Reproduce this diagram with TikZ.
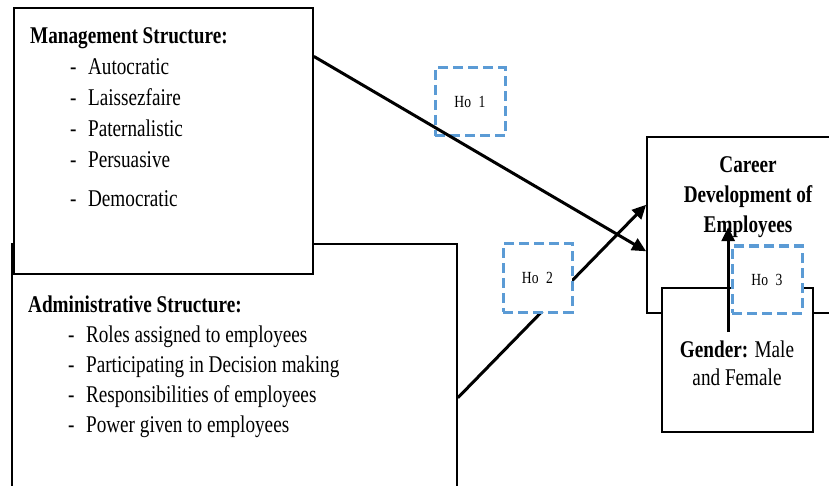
\documentclass[tikz,border=0pt]{standalone}
\usepackage{fontspec}
\setmainfont{Liberation Serif}[FakeStretch=0.80]
\usetikzlibrary{arrows.meta,calc}
\definecolor{hoblue}{HTML}{5B9BD5}
\tikzset{
  frame/.style={draw=black, line width=1.7pt, fill=white, rectangle, inner sep=0pt},
  hobox/.style={draw=hoblue, line width=3pt, dash pattern=on 10pt off 5pt,
    rectangle, inner sep=0pt, font=\fontsize{17}{20}\selectfont},
  link/.style={line width=3pt, -{Triangle[length=14pt,width=13pt]}},
  label/.style={inner sep=0pt, font=\fontsize{24}{31}\selectfont}
}
\begin{document}
\begin{tikzpicture}[x=1pt,y=-1pt]
\useasboundingbox (0,0) rectangle (829,486);
\clip (0,0) rectangle (829,486);

% independent variable boxes
\node[frame, minimum width=445pt, minimum height=256pt] (admin) at (234.5,372) {};
\node[frame, minimum width=299pt, minimum height=266pt] (mgmt) at (163.5,141) {};

\node[label, anchor=base west] (mgmttext) at (30,44) {%
  \begin{tabular}[t]{@{\hspace{40pt}}l@{\hspace{11.5pt}}l@{}}
  \multicolumn{2}{@{}l@{}}{\textbf{Management Structure:}}\\
  - & Autocratic\\
  - & Laissezfaire\\
  - & Paternalistic\\
  - & Persuasive\\[8pt]
  - & Democratic
  \end{tabular}};

\node[label, anchor=base west] (admintext) at (28,312) {%
  \fontsize{24}{30}\selectfont
  \begin{tabular}[t]{@{\hspace{40pt}}l@{\hspace{11.5pt}}l@{}}
  \multicolumn{2}{@{}l@{}}{\textbf{Administrative Structure:}}\\
  - & Roles assigned to employees\\
  - & Participating in Decision making\\
  - & Responsibilities of employees\\
  - & Power given to employees
  \end{tabular}};

% dependent variable and moderator
\node[frame, minimum width=213pt, minimum height=176pt] (career) at (753.5,225) {};

% hypothesis links
\draw[link] ($(admin.north east)!0.60!(admin.south east)$) --
            ($(career.north west)!0.386!(career.south west)$);
\node[hobox, fill=white, minimum width=69pt, minimum height=68pt] (ho2) at (537.5,278) {Ho\hspace{0.45em}2};

\node[hobox, fill=white, minimum width=70pt, minimum height=68pt] (ho1) at (470,102) {Ho\hspace{0.45em}1};
\draw[link] ($(mgmt.north east)!0.184!(mgmt.south east)$) --
            ($(career.north west)!0.648!(career.south west)$);

% the base anchor of a multi-line node sits on its last line
\node[label, anchor=base, align=center, font=\fontsize{24}{30}\selectfont\bfseries]
  (careertext) at (748,233) {Career\\Development of\\Employees};

\node[frame, minimum width=151pt, minimum height=144pt] (gender) at (737.5,360) {};
\node[label, anchor=base, align=center, font=\fontsize{24}{28}\selectfont]
  (gendertext) at (737,385) {\textbf{Gender:} Male\\and Female};

\node[hobox, fill=white, minimum width=70pt, minimum height=67pt] (ho3) at (767,279.5) {Ho\hspace{0.45em}3};

\coordinate (gstart) at ($(gender.north west)+(67,45)$);
\coordinate (cend) at ($(gender.north west)+(67,-60)$);
\draw[link] (gstart) -- (cend);
\end{tikzpicture}
\end{document}
